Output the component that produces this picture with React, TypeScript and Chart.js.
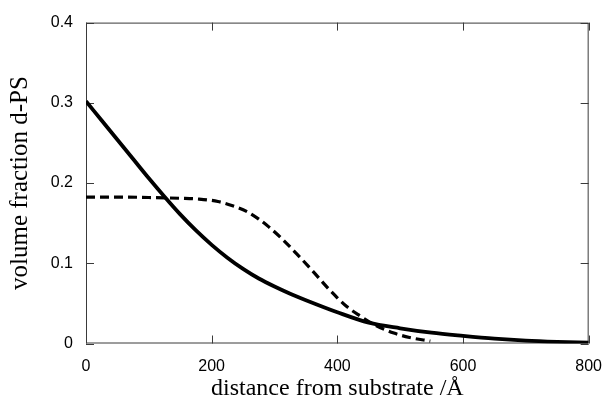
import React, { useEffect, useRef } from "react";
import { Chart, registerables } from "chart.js";

Chart.register(...registerables);

// distance from substrate / Å
const solidX = [0, 25, 50, 75, 100, 125, 150, 175, 200, 225, 250, 275, 300, 325, 350, 400, 450, 500, 550, 600, 650, 700, 750, 800];
// volume fraction d-PS (solid curve)
const solidY = [0.302, 0.278, 0.254, 0.23, 0.206, 0.183, 0.161, 0.141, 0.123, 0.107, 0.093, 0.081, 0.071, 0.062, 0.054, 0.039, 0.026, 0.019, 0.0135, 0.0095, 0.006, 0.0035, 0.002, 0.001];

const dashX = [0, 50, 100, 150, 180, 210, 232, 257, 275, 290, 310, 335, 360, 385, 400, 415, 435, 460, 490, 515, 548];
const dashY = [0.1825, 0.1825, 0.182, 0.181, 0.18, 0.177, 0.172, 0.164, 0.155, 0.146, 0.132, 0.112, 0.091, 0.069, 0.057, 0.046, 0.035, 0.023, 0.013, 0.0075, 0.003];

const xTicks = [0, 200, 400, 600, 800];
const yTicks = [0, 0.1, 0.2, 0.3, 0.4];

const xTitle = "distance from substrate /Å";
const yTitle = "volume fraction d-PS";

const framePlugin = {
  id: "frame",
  beforeDatasetsDraw(chart: any) {
    const { ctx, chartArea } = chart;
    const xs = chart.scales.x;
    const ys = chart.scales.y;
    const { left, right, top, bottom } = chartArea;
    ctx.save();
    ctx.strokeStyle = "#3a3a3a";
    ctx.lineWidth = 1;
    ctx.strokeRect(left + 0.5, top + 0.5, right - left - 1, bottom - top - 1);
    const L = 8;
    ctx.beginPath();
    xTicks.forEach((v) => {
      const px = Math.round(xs.getPixelForValue(v)) + 0.5;
      ctx.moveTo(px, bottom);
      ctx.lineTo(px, bottom - L);
      ctx.moveTo(px, top);
      ctx.lineTo(px, top + L);
    });
    yTicks.forEach((v) => {
      const py = Math.round(ys.getPixelForValue(v)) + 0.5;
      ctx.moveTo(left, py);
      ctx.lineTo(left + L, py);
      ctx.moveTo(right, py);
      ctx.lineTo(right - L, py);
    });
    ctx.stroke();
    ctx.restore();
  },
};

export default function App() {
  const ref = useRef<HTMLCanvasElement | null>(null);
  useEffect(() => {
    document.body.style.margin = "0";
    const canvas = ref.current;
    if (!canvas) return;
    const chart = new Chart(canvas, {
      type: "line",
      data: {
        datasets: [
          {
            label: "solid",
            data: solidX.map((x, i) => ({ x, y: solidY[i] })),
            borderColor: "#000",
            borderWidth: 3.8,
            pointRadius: 0,
            cubicInterpolationMode: "monotone",
            fill: false,
          },
          {
            label: "dashed",
            data: dashX.map((x, i) => ({ x, y: dashY[i] })),
            borderColor: "#000",
            borderWidth: 3.2,
            borderDash: [9, 5],
            pointRadius: 0,
            cubicInterpolationMode: "monotone",
            fill: false,
          },
        ],
      },
      options: {
        responsive: false,
        animation: false,
        layout: { padding: { top: 19.5, right: 19, left: 0, bottom: 0 } },
        plugins: { legend: { display: false }, tooltip: { enabled: false } },
        scales: {
          x: {
            type: "linear",
            min: 0,
            max: 800,
            afterFit: (s: any) => {
              s.height = 56.5;
            },
            afterBuildTicks: (s: any) => {
              s.ticks = xTicks.map((v) => ({ value: v }));
            },
            border: { display: false },
            grid: { display: false, drawTicks: false },
            ticks: {
              padding: 13,
              color: "#000",
              font: { family: "'Liberation Sans', Arial, sans-serif", size: 16 },
              maxRotation: 0,
            },
            title: {
              display: true,
              text: xTitle,
              color: "#000",
              font: { family: "'Liberation Serif', 'Times New Roman', serif", size: 24, lineHeight: 0.9 },
              padding: { top: 0, bottom: 0 },
            },
          },
          y: {
            type: "linear",
            min: 0,
            max: 0.4,
            afterFit: (s: any) => {
              s.width = 86;
            },
            afterBuildTicks: (s: any) => {
              s.ticks = yTicks.map((v) => ({ value: v }));
            },
            border: { display: false },
            grid: { display: false, drawTicks: false },
            ticks: {
              padding: 13,
              color: "#000",
              font: { family: "'Liberation Sans', Arial, sans-serif", size: 16 },
              callback: (v: any) => String(Math.round(Number(v) * 10) / 10),
            },
            title: {
              display: true,
              text: yTitle,
              color: "#000",
              font: { family: "'Liberation Serif', 'Times New Roman', serif", size: 25, lineHeight: 0.9 },
              padding: { top: 9, bottom: 0 },
            },
          },
        },
      },
      plugins: [framePlugin],
    } as any);
    return () => chart.destroy();
  }, []);
  return (
    <div style={{ position: "absolute", left: 0, top: 0, width: 615, height: 400, background: "#fff" }}>
      <canvas ref={ref} width={615} height={400} />
    </div>
  );
}
